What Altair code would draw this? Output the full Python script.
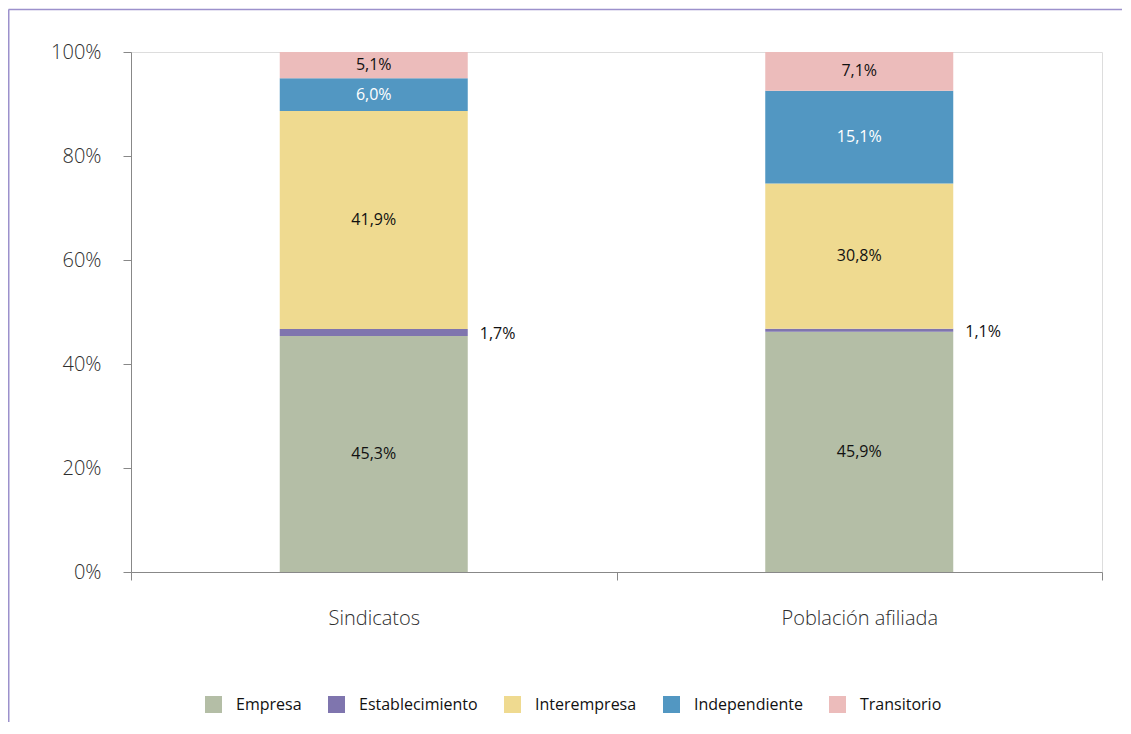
import altair as alt
import pandas as pd

categories = ["Sindicatos", "Población afiliada"]
types = ["Empresa", "Establecimiento", "Interempresa", "Independiente", "Transitorio"]
# segment heights as drawn in the picture (percent of bar)
sindicatos_drawn = [45.4, 1.35, 41.9, 6.3, 5.05]
poblacion_drawn = [46.2, 0.6, 27.9, 17.85, 7.45]
# printed labels
sindicatos_labels = ["45,3%", "1,7%", "41,9%", "6,0%", "5,1%"]
poblacion_labels = ["45,9%", "1,1%", "30,8%", "15,1%", "7,1%"]
colors = ["#b4bea6", "#7f75ae", "#efda90", "#5297c2", "#ecbcbb"]

rows = []
for cat, vals, labs in zip(categories, [sindicatos_drawn, poblacion_drawn],
                           [sindicatos_labels, poblacion_labels]):
    for i, (t, v, lab) in enumerate(zip(types, vals, labs)):
        rows.append({"cat": cat, "type": t, "value": v, "idx": i, "label": lab})
df = pd.DataFrame(rows)

FONT = "Open Sans"
AXIS_COLOR = "#2e2e2e"

base = alt.Chart(df)

x_enc = alt.X("cat:N", sort=categories, title=None,
              scale=alt.Scale(paddingInner=0, paddingOuter=0),
              axis=alt.Axis(labelAngle=0, tickBand="extent", labelFontSize=20,
                            labelColor=AXIS_COLOR, labelPadding=28, tickSize=8,
                            labelFont=FONT, labelFontWeight=300))

bars = base.mark_bar(size=188).encode(
    x=x_enc,
    y=alt.Y("value:Q", stack="zero", title=None,
            scale=alt.Scale(domain=[0, 100], nice=False),
            axis=alt.Axis(values=[0, 20, 40, 60, 80, 100], labelExpr="datum.value + '%'",
                          grid=False, tickSize=8, labelPadding=22, labelFontSize=20,
                          labelColor=AXIS_COLOR, labelFont=FONT, labelFontWeight=300)),
    color=alt.Color("type:N", scale=alt.Scale(domain=types, range=colors),
                    legend=alt.Legend(title=None, orient="none", direction="horizontal",
                                      legendX=74, legendY=644, symbolType="square",
                                      symbolSize=289, symbolStrokeWidth=0, labelFontSize=16,
                                      labelFont=FONT, labelColor="#111111", labelOffset=14,
                                      columnPadding=26, padding=0)),
    order=alt.Order("idx:Q", sort="ascending"),
)

mids = base.transform_window(
    cum="sum(value)", groupby=["cat"], sort=[alt.SortField("idx")], frame=[None, 0]
).transform_calculate(mid="datum.cum - datum.value / 2")

inner = mids.transform_filter("datum.type != 'Establecimiento'").mark_text(
    fontSize=16, font=FONT, baseline="middle"
).encode(
    x=alt.X("cat:N", sort=categories),
    y=alt.Y("mid:Q"),
    text="label:N",
    color=alt.condition("datum.type == 'Independiente'", alt.value("#ffffff"), alt.value("#111111")),
)

outer = mids.transform_filter("datum.type == 'Establecimiento'").mark_text(
    fontSize=16, font=FONT, baseline="middle", align="left", dx=106, dy=2, color="#111111"
).encode(
    x=alt.X("cat:N", sort=categories),
    y=alt.Y("mid:Q"),
    text="label:N",
)

frame_df = pd.DataFrame({"k": [0]})
top_line = alt.Chart(frame_df).mark_rule(color="#9c91cc", strokeWidth=1.5).encode(
    x=alt.value(-122.5), x2=alt.value(1000), y=alt.value(-42.5)
)
left_line = alt.Chart(frame_df).mark_rule(color="#9c91cc", strokeWidth=1.5).encode(
    x=alt.value(-122.25), y=alt.value(-42.5), y2=alt.value(680)
)

chart = alt.layer(bars, inner, outer, top_line, left_line).resolve_scale(
    color="independent"
).properties(
    width=971, height=520,
    autosize=alt.AutoSizeParams(type="none"),
    padding={"left": 123, "top": 44, "right": 20, "bottom": 150},
).configure_view(stroke=None).configure_axis(
    domainColor="#404040", tickColor="#404040", domainWidth=1.5, tickWidth=1.5
).configure(background="white")

chart.save("out.html", embed_options={"renderer": "svg", "actions": False})
